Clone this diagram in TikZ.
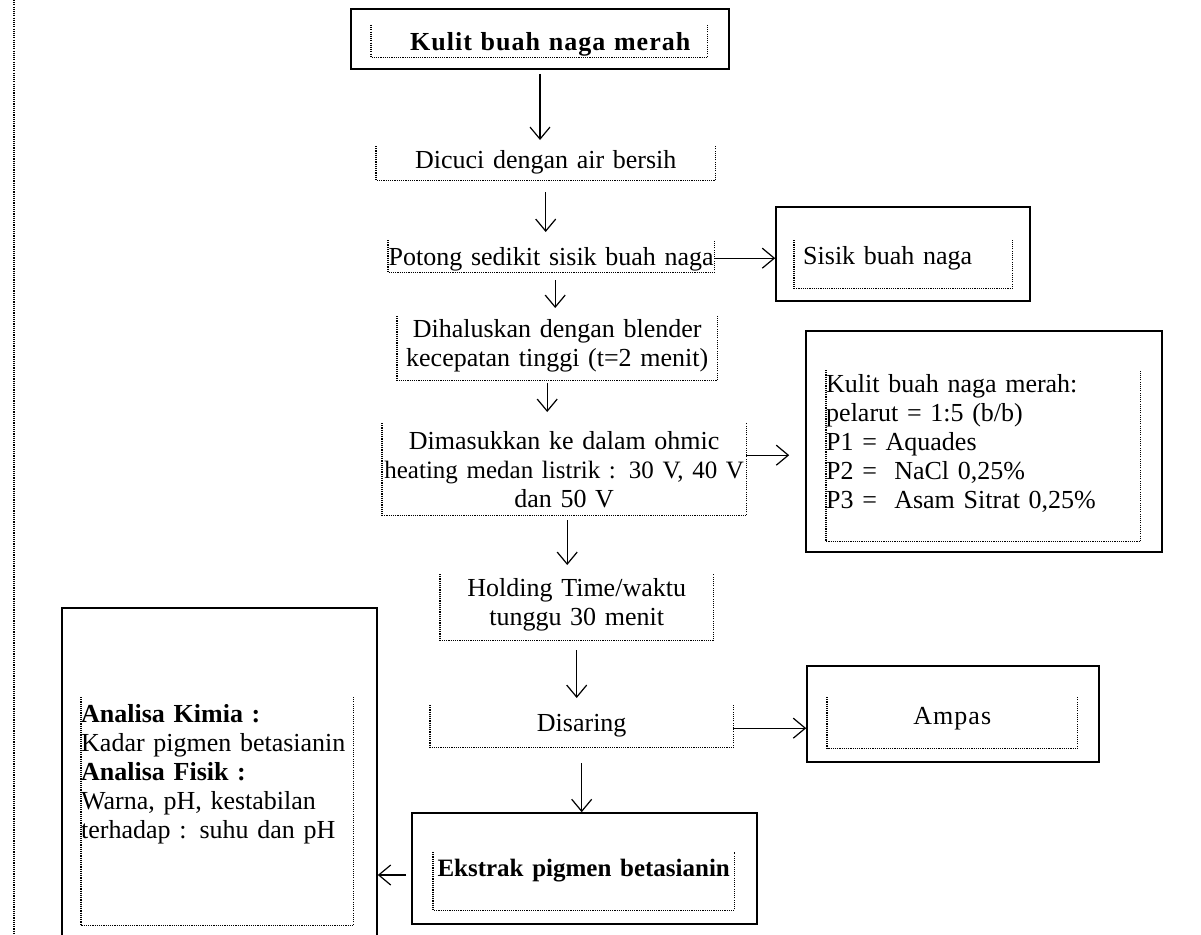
\documentclass[tikz,border=0pt]{standalone}
\usepackage{fontspec}
\setmainfont{Liberation Serif}
\usetikzlibrary{arrows.meta}
\newcommand{\fullline}[1]{\makebox[\linewidth][c]{#1}}
\begin{document}
\begin{tikzpicture}[x=1pt,y=-1pt,
  solidbox/.style={draw, line width=1.6pt, inner sep=0pt, minimum width=#1},
  inbox/.style={inner sep=0pt, font=\fontsize{26}{29}\selectfont, anchor=north west},
  dotline/.style={line width=1.1pt, dash pattern=on 1.1pt off 1.1pt},
  arr/.style={-{Straight Barb[length=12pt,width=20pt,line width=1.2pt]}, line width=1.3pt}]
\useasboundingbox (0,0) rectangle (1201,934);
\clip (0,0) rectangle (1201,934);

% outer solid boxes
\node[solidbox=378pt, minimum height=60pt] (topO) at (540,39) {};
\node[solidbox=254pt, minimum height=94pt] (sisikO) at (903,254) {};
\node[solidbox=356pt, minimum height=221pt] (pO) at (984,441.5) {};
\node[solidbox=292pt, minimum height=96pt] (ampasO) at (953,714) {};
\node[solidbox=345pt, minimum height=111pt] (ekstrakO) at (584.5,868.5) {};
\node[solidbox=315pt, minimum height=337pt] (analisaO) at (219.5,776.5) {};

% dotted text regions
\node[inbox, text width=336pt, align=center, text height=25pt, text depth=7pt] (topI) at (371,25) {\fullline{\hspace{22pt}\bfseries\addfontfeature{LetterSpace=4}Kulit buah naga merah}};
\node[inbox, text width=339pt, align=center, text height=22pt, text depth=12pt] (dicuci) at (376,146) {\fullline{Dicuci dengan air bersih}};
\node[inbox, text width=326pt, align=center, text height=25pt, text depth=7pt] (potong) at (388,240) {\fullline{Potong sedikit sisik buah naga}};
\node[inbox, inner xsep=9pt, text width=200pt, align=left, text height=24pt, text depth=24pt] (sisikI) at (794,240) {Sisik buah naga};
\node[inbox, text width=320pt, align=center, text height=21pt, text depth=43pt] (dihalus) at (397,316) {\fullline{Dihaluskan dengan blender}\\\fullline{kecepatan tinggi (t=2 menit)}};
\node[inbox, text width=364pt, align=center, text height=26pt, text depth=66pt] (dimasuk) at (382,423) {\fullline{Dimasukkan ke dalam ohmic}\\\fullline{\fontsize{25}{29}\selectfont heating medan listrik : 30 V, 40 V}\\\fullline{dan 50 V}};
\node[inbox, text width=314pt, align=left, text height=22pt, text depth=149pt] (pI) at (826,370) {Kulit buah naga merah:\\pelarut = 1:5 (b/b)\\P1 = Aquades\\P2 = \ NaCl 0,25\%\\P3 = \ Asam Sitrat 0,25\%};
\node[inbox, text width=273pt, align=center, text height=22pt, text depth=44pt] (holding) at (440,574) {\fullline{Holding Time/waktu}\\\fullline{tunggu 30 menit}};
\node[inbox, text width=303pt, align=center, text height=26pt, text depth=16pt] (disaring) at (430,705) {Disaring};
\node[inbox, text width=250pt, align=center, text height=27pt, text depth=24pt] (ampasI) at (827,697) {\addfontfeature{LetterSpace=4}Ampas};
\node[inbox, text width=301pt, align=center, text height=24pt, text depth=34pt] (ekstrakI) at (433,852) {\fullline{\fontsize{25}{29}\selectfont\bfseries Ekstrak pigmen betasianin}};
\node[inbox, text width=272pt, align=left, text height=25pt, text depth=203pt] (analisaI) at (81,697) {\textbf{Analisa Kimia :}\\Kadar pigmen betasianin\\\textbf{Analisa Fisik :}\\Warna, pH, kestabilan\\terhadap : suhu dan pH};

\foreach \n in {topI,dicuci,potong,sisikI,dihalus,dimasuk,pI,holding,disaring,ampasI,ekstrakI,analisaI}
  \draw[dotline] (\n.north west) -- (\n.south west) -- (\n.south east) -- (\n.north east);

% left margin dotted line
\draw[dotline] (14,0) -- (14,934);

% connectors
\draw[arr, shorten <=4pt, shorten >=6pt] (topO.south) -- (topO.south |- dicuci.north);
\draw[arr, shorten <=12pt, shorten >=8pt] (dicuci.south) -- (dicuci.south |- potong.north);
\draw[arr] ([yshift=-2pt]potong.east) -- ([yshift=-2pt]potong.east -| sisikO.west);
\draw[arr, shorten <=8pt, shorten >=8pt] ([xshift=-2pt]potong.south -| dihalus.north) -- ([xshift=-2pt]dihalus.north);
\draw[arr, shorten <=3pt, shorten >=11pt] ([xshift=-10pt]dihalus.south) -- ([xshift=-10pt]dihalus.south |- dimasuk.north);
\draw[arr, shorten >=16pt] ([yshift=14pt]dimasuk.east) -- ([yshift=14pt]dimasuk.east -| pO.west);
\draw[arr, shorten <=5pt, shorten >=9pt] ([xshift=3pt]dimasuk.south) -- ([xshift=3pt]dimasuk.south |- holding.north);
\draw[arr, shorten <=10pt, shorten >=7pt] (holding.south) -- (holding.south |- disaring.north);
\draw[arr] ([yshift=-2pt]disaring.east) -- ([yshift=-2pt]disaring.east -| ampasO.west);
\draw[arr, shorten <=16pt] (disaring.south) -- (disaring.south |- ekstrakO.north);
\draw[arr, shorten <=5pt] ([yshift=-6.5pt]ekstrakO.west) -- ([yshift=-6.5pt]ekstrakO.west -| analisaO.east);
\end{tikzpicture}
\end{document}
